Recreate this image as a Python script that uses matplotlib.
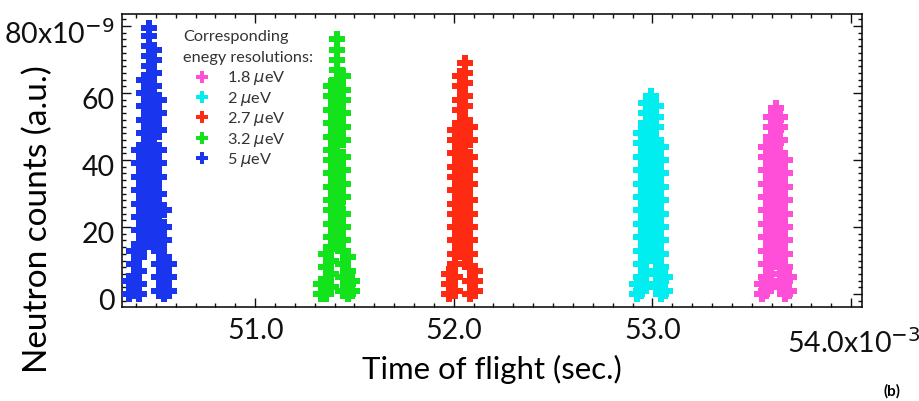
import matplotlib
matplotlib.use("Agg")
import matplotlib.pyplot as plt
from matplotlib.ticker import MultipleLocator, FixedLocator
from matplotlib.lines import Line2D
from matplotlib.transforms import ScaledTranslation

# ---------------- data (time of flight in 1e-3 s, counts in 1e-9 a.u.) ----------------
blue_tof = [50.365, 50.39, 50.415, 50.44, 50.465, 50.49, 50.515, 50.54, 50.565]
blue_counts = [[0, 4], [1, 5, 9, 13],
               [0, 3, 7, 11, 15, 19, 23, 27, 31, 35, 39, 43],
               [14, 18, 21, 25, 29, 33, 37, 41, 44, 48, 52, 56, 60, 64],
               [17, 22, 26, 30, 34, 38, 42, 46, 50, 53, 57, 61, 65, 68, 71, 74, 77, 79.4],
               [15, 19, 24, 28, 32, 36, 40, 44, 47, 51, 55, 59, 62, 66, 70, 73],
               [1, 5, 9, 13, 17, 21, 26, 30, 35, 39, 43, 49, 54, 58],
               [0, 3, 7, 11, 16, 20, 25], [1, 5, 9]]

green_tof = [51.33, 51.355, 51.38, 51.41, 51.44, 51.465, 51.49]
green_counts = [[0, 3], [0, 4, 8, 12],
                [2, 6, 10, 14, 17, 21, 25, 28, 32, 36, 40, 43, 47, 51, 55, 59, 62],
                [15, 19, 23, 27, 30, 34, 38, 42, 45, 49, 53, 57, 60, 64, 67, 70, 73, 76],
                [1, 5, 9, 13, 16, 20, 24, 29, 33, 37, 41, 46, 50, 54, 58, 61, 65],
                [0, 3, 7, 11], [1, 4]]

red_tof = [51.975, 52.005, 52.03, 52.055, 52.08, 52.105]
red_counts = [[0, 3, 6],
              [1, 5, 9, 12, 16, 20, 24, 27, 31, 35, 38, 42, 46, 49],
              [13, 17, 21, 25, 29, 32, 36, 40, 44, 47, 51, 55, 58, 62, 65],
              [11, 15, 19, 23, 26, 30, 34, 37, 41, 45, 48, 52, 56, 59, 63, 66, 69],
              [0, 4, 8, 12, 16, 20, 24, 28, 33, 37, 41, 46, 50],
              [1, 4, 7]]

cyan_tof = [52.925, 52.945, 52.97, 52.995, 53.02, 53.045, 53.065]
cyan_counts = [[0, 3],
               [1, 5, 9, 13, 17, 21, 25, 29, 33, 37, 41, 45, 48],
               [3, 7, 11, 15, 19, 23, 27, 31, 35, 39, 43, 47, 51, 54, 57],
               [14, 18, 22, 26, 30, 34, 38, 42, 46, 50, 53, 56, 59],
               [2, 6, 10, 14, 18, 22, 26, 30, 34, 38, 42, 46, 50, 53, 56],
               [0, 4, 8, 12, 16, 20, 24, 28, 32, 36, 40, 44],
               [1, 5]]

magenta_tof = [53.55, 53.57, 53.595, 53.62, 53.645, 53.67, 53.69]
magenta_counts = [[0, 3],
                  [1, 5, 9, 13, 17, 21, 25, 29, 33, 37, 41, 44],
                  [4, 8, 12, 16, 20, 24, 28, 32, 35, 39, 43, 47, 50, 53],
                  [13, 17, 21, 25, 29, 33, 37, 41, 45, 49, 52, 55.5],
                  [2, 6, 10, 14, 18, 22, 26, 30, 34, 38, 42, 46, 50, 53],
                  [0, 4, 8, 12, 16, 20, 24, 28, 32, 36, 40],
                  [1, 5]]

resolution_labels = [r"1.8 $\mu$eV", r"2 $\mu$eV", r"2.7 $\mu$eV", r"3.2 $\mu$eV", r"5 $\mu$eV"]
series_colors = ["#ff4fd9", "#00eef0", "#ff2a12", "#13e31a", "#1a35ee"]
series = [(magenta_tof, magenta_counts), (cyan_tof, cyan_counts), (red_tof, red_counts),
          (green_tof, green_counts), (blue_tof, blue_counts)]

x_major_ticks = [51.0, 52.0, 53.0, 54.0]
x_tick_labels = ["51.0", "52.0", "53.0", ""]
y_major_ticks = [0, 20, 40, 60, 80]
y_tick_labels = ["0", "20", "40", "60", r"80x10$^{-9}$"]

# ---------------- figure ----------------
plt.rcParams["font.family"] = ["Lato", "DejaVu Sans"]
plt.rcParams["mathtext.fontset"] = "dejavusans"
fig = plt.figure(figsize=(9.19, 4.01), dpi=100)
ax = fig.add_axes([121.7 / 919, 1 - 306.5 / 401, 740 / 919, 292.5 / 401])

for (tof, counts), col in zip(series, series_colors):
    xs, ys = [], []
    for t, cs in zip(tof, counts):
        for c in cs:
            xs.append(t)
            ys.append(c)
    ax.scatter(xs, ys, marker="P", s=125, color=col, linewidths=0, zorder=3)

ax.set_xlim(50.328, 54.054)
ax.set_ylim(-3.7, 83.6)

ax.xaxis.set_major_locator(FixedLocator(x_major_ticks))
ax.set_xticklabels(x_tick_labels)
ax.xaxis.set_minor_locator(MultipleLocator(0.1))
ax.yaxis.set_major_locator(FixedLocator(y_major_ticks))
ax.set_yticklabels(y_tick_labels)
ax.yaxis.set_minor_locator(MultipleLocator(2))

ax.tick_params(which="both", direction="in", top=True, right=True, width=1.0, colors="#111111")
ax.tick_params(which="major", length=6.5, labelsize=20.5)
ax.tick_params(axis="x", which="major", pad=8)
ax.tick_params(axis="y", which="major", pad=5)
ax.tick_params(which="minor", length=3.2)
for sp in ax.spines.values():
    sp.set_linewidth(1.1)
for lab in ax.get_yticklabels():
    lab.set_transform(lab.get_transform() + ScaledTranslation(0, -5 / 100, fig.dpi_scale_trans))

ax.set_xlabel("Time of flight (sec.)", fontsize=22.4, va="center")
ax.xaxis.set_label_coords(0.5, -(369 - 306.5) / 292.5)
ax.set_ylabel("Neutron counts (a.u.)", fontsize=24, va="center")
ax.yaxis.set_label_coords((38 - 121.7) / 740, (306.5 - 219) / 292.5)

fig.text(787 / 919, 1 - 353 / 401, r"54.0x10$^{-3}$", fontsize=20.5, ha="left", va="baseline", color="#111111")
fig.text(883 / 919, 1 - 391 / 401, "(b)", fontsize=11, fontweight="bold", ha="left", va="center")

handles = [Line2D([], [], marker="P", linestyle="none", markersize=9, color=c, markeredgewidth=0)
           for c in series_colors]
leg = ax.legend(handles, resolution_labels, title="Corresponding\nenegy resolutions:",
                loc="upper left", bbox_to_anchor=((183 - 121.7) / 740, (306.5 - 30.5) / 292.5),
                frameon=False, fontsize=11.7, title_fontsize=11.7, alignment="left",
                borderpad=0, borderaxespad=0, labelspacing=0.15, handletextpad=0.43,
                handlelength=2.3)
for t in leg.get_texts():
    t.set_color("#333333")
leg.get_title().set_color("#333333")
leg.get_title().set_linespacing(1.6)
leg._legend_box.sep = 3

fig.savefig("out.png", dpi=100)
